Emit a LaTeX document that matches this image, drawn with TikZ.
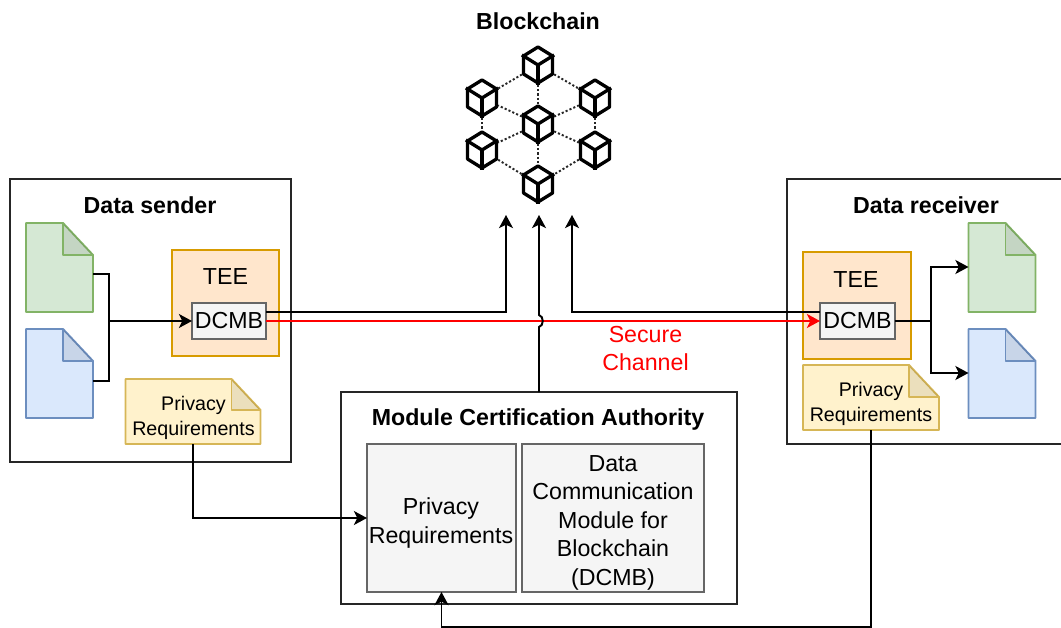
\documentclass[tikz,border=0pt]{standalone}
\usepackage{fontspec}
\setmainfont{Liberation Sans}
\usetikzlibrary{arrows.meta,shapes.geometric}

\definecolor{greenfill}{HTML}{D5E8D4}
\definecolor{greenedge}{HTML}{82B366}
\definecolor{bluefill}{HTML}{DAE8FC}
\definecolor{blueedge}{HTML}{6C8EBF}
\definecolor{yellowfill}{HTML}{FFF2CC}
\definecolor{yellowedge}{HTML}{D6B656}
\definecolor{orangefill}{HTML}{FFE6CC}
\definecolor{orangeedge}{HTML}{D79B00}
\definecolor{grayfill}{HTML}{F5F5F5}
\definecolor{grayedge}{HTML}{666666}

\tikzset{
  sizebox/.style 2 args={minimum width=#1*0.02cm, minimum height=#2*0.02cm, inner sep=0pt, outer sep=0pt},
  mainbox/.style={draw=black!85, line width=1.1pt},
  teebox/.style={draw=orangeedge, fill=orangefill, line width=1.1pt},
  graybox/.style={draw=grayedge, fill=grayfill, line width=1.15pt},
  graytext/.style={align=center, font=\fontsize{13.2}{16.2}\selectfont},
  greennote/.style={draw=greenedge, fill=greenfill},
  bluenote/.style={draw=blueedge, fill=bluefill},
  yellownote/.style={draw=yellowedge, fill=yellowfill},
  titletext/.style={font=\fontsize{13.2}{16}\selectfont\bfseries},
  normaltext/.style={font=\fontsize{13.2}{16}\selectfont},
  notetext/.style={align=center, font=\fontsize{11.2}{13.9}\selectfont},
  link/.style={draw=black, line width=1.1pt, -{Stealth[length=7.5pt,width=8pt,inset=2pt]}},
  plainlink/.style={draw=black, line width=1.1pt},
  redlink/.style={draw=red, line width=1.1pt, -{Stealth[length=7.5pt,width=8pt,inset=2pt]}},
  cube/.style={regular polygon, regular polygon sides=6, shape border rotate=30, minimum size=36*0.02cm, xscale=0.93, inner sep=0pt, outer sep=1pt, draw=black, line width=1.9pt, line join=round},
  dotlink/.style={draw=black!85, line width=1.1pt, dash pattern=on 1.2pt off 1.2pt}
}

% name, x, y, width, height, fold width, fold height, style
\newcommand{\foldnote}[8]{
  \node[sizebox={#4}{#5}] (#1) at (#2,#3) {};
  \draw[#8, line width=1.1pt, line join=round] (#1.north west) -- ([shift={(-#6,0)}]#1.north east) -- ([shift={(0,#7)}]#1.north east) -- (#1.south east) -- (#1.south west) -- cycle;
  \fill[black, opacity=0.08] ([shift={(-#6,0)}]#1.north east) -- ([shift={(-#6,#7)}]#1.north east) -- ([shift={(0,#7)}]#1.north east) -- cycle;
  \draw[#8, fill=none, line width=1.1pt, line join=round] ([shift={(-#6,0)}]#1.north east) -- ([shift={(-#6,#7)}]#1.north east) -- ([shift={(0,#7)}]#1.north east);
}

\begin{document}
\begin{tikzpicture}[x=0.02cm, y=-0.02cm]
\useasboundingbox (0,0) rectangle (1061,628);

%% blockchain
\node[titletext] (chainTitle) at (538,21) {Blockchain};
\foreach \n/\x/\y in {cubeT/538/65, cubeLT/482/98, cubeRT/595/98, cubeM/538/124, cubeLB/482/150, cubeRB/595/150, cubeB/538/184} {
  \node[cube] (\n) at (\x,\y) {};
  \draw[line width=1.9pt, line join=round] (\n.corner 2) -- (\n.center) -- (\n.corner 6);
  \draw[line width=1.9pt] (\n.center) -- (\n.corner 4);
}
\foreach \a/\b in {cubeT/cubeLT, cubeT/cubeRT, cubeT/cubeM, cubeM/cubeLT, cubeM/cubeRT, cubeM/cubeLB, cubeM/cubeRB, cubeM/cubeB, cubeLT/cubeLB, cubeRT/cubeRB, cubeLB/cubeB, cubeRB/cubeB}
  \draw[dotlink] (\a) -- (\b);

%% sender
\node[mainbox, sizebox={281}{283}] (sender) at (150.5,320.5) {};
\node[titletext] (senderTitle) at (150,205) {Data sender};
\foldnote{docGS}{59.5}{267.5}{67}{89}{30}{32}{greennote}
\foldnote{docBS}{59.5}{373.5}{67}{89}{30}{32}{bluenote}
\node[teebox, sizebox={107}{106}] (teeS) at (225.5,303) {};
\node[normaltext] (teeTextS) at (225.5,277) {TEE};
\node[graybox, normaltext, sizebox={74}{36}] (dcmbS) at (229,321) {DCMB};
\foldnote{reqS}{193}{411.5}{135}{65}{29}{31}{yellownote}
\node[notetext] (reqTextS) at (193.5,418) {Privacy\\Requirements};

%% receiver
\draw[mainbox] (1061,179) -- (787,179) -- (787,444) -- (1061,444);
\node[titletext] (receiverTitle) at (926,205) {Data receiver};
\foldnote{docGR}{1002}{267.5}{67}{89}{30}{32}{greennote}
\foldnote{docBR}{1002}{373.5}{67}{89}{30}{32}{bluenote}
\node[teebox, sizebox={108}{107}] (teeR) at (857,305.5) {};
\node[normaltext] (teeTextR) at (856,280) {TEE};
\node[graybox, normaltext, sizebox={75}{36}] (dcmbR) at (857.5,321) {DCMB};
\foldnote{reqR}{871}{397.5}{136}{65}{30}{32}{yellownote}
\node[notetext] (reqTextR) at (871,404) {Privacy\\Requirements};

%% authority
\node[mainbox, sizebox={396}{212}] (authority) at (539,498) {};
\node[titletext] (authorityTitle) at (538,420) {Module Certification Authority};
\node[graybox, sizebox={149}{148}] (privacyBox) at (441.5,518) {};
\node[graytext] (privacyText) at (441,523) {Privacy\\Requirements};
\node[graybox, sizebox={182}{148}] (dcmbBox) at (613,518) {};
\node[graytext] (dcmbText) at (613,522.5) {Data\\Communication\\Module for\\Blockchain\\(DCMB)};

\coordinate (tipL) at (506,215);
\coordinate (tipM) at (539,215);
\coordinate (tipR) at (572,215);
\coordinate (jointS) at (109,321);
\coordinate (jointR) at (931,321);
\coordinate (cornerR) at (871,627);

%% connectors
\draw[plainlink] ([shift={(0,6.5)}]docGS.east) -| (jointS);
\draw[plainlink] ([shift={(0,7.5)}]docBS.east) -| (jointS);
\draw[link] (jointS) -- (dcmbS.west);
\draw[plainlink] (dcmbR.east) -- (jointR);
\draw[link] (jointR) |- ([shift={(0,-0.5)}]docGR.west);
\draw[link] (jointR) |- ([shift={(0,-0.5)}]docBR.west);
\draw[link] ([shift={(0,-9)}]dcmbS.east) -| (tipL);
\draw[link] ([shift={(0,-9)}]dcmbR.west) -| (tipR);
\draw[redlink] (dcmbS.east) -- (dcmbR.west);
\draw[link] (authority.north -| tipM) -- (539,327) .. controls (544,326) and (544,316) .. (539,315) -- (tipM);
\draw[link] (reqS.south) |- (privacyBox.west);
\draw[link] (reqR.south) -- (cornerR) -| (privacyBox.south);

\node[font=\fontsize{13.2}{16}\selectfont, text=red, align=center] (secureText) at (645.5,348.5) {Secure\\Channel};
\end{tikzpicture}
\end{document}
